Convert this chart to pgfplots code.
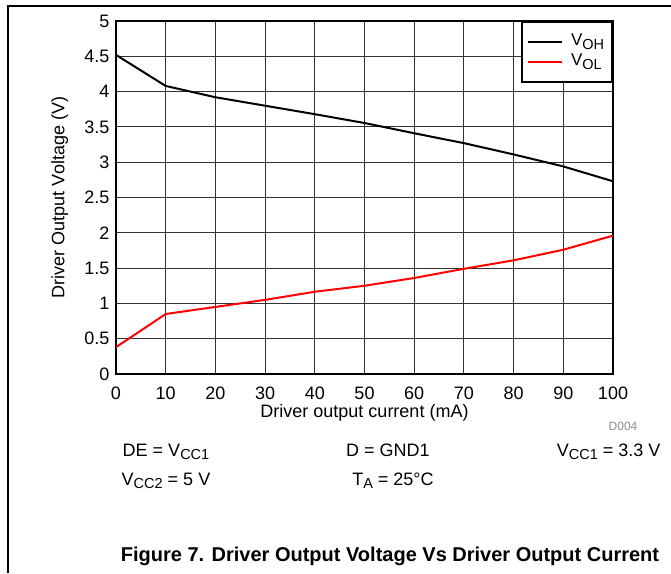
\documentclass[border=0pt]{standalone}
\usepackage{fontspec}
\setmainfont{Liberation Sans}
\usepackage{pgfplots}
\pgfplotsset{compat=1.18}
\newcommand{\sub}[1]{\raisebox{-3.5pt}{\fontsize{14.5}{14.5}\selectfont #1}}
\begin{document}
\begin{tikzpicture}[x=1pt,y=1pt]
\useasboundingbox (0,0) rectangle (671,573);
\draw[line width=1.3pt] (8,0) -- (8,567) -- (671,567);
\begin{axis}[
  at={(116pt,199pt)}, anchor=south west,
  scale only axis, width=497pt, height=353pt,
  xmin=0, xmax=100, ymin=0, ymax=5,
  xtick={0,10,20,30,40,50,60,70,80,90,100},
  ytick={0,0.5,1,1.5,2,2.5,3,3.5,4,4.5,5},
  yticklabels={0,0.5,1,1.5,2,2.5,3,3.5,4,4.5,5},
  /pgf/number format/assume math mode=true,
  major tick length=0pt,
  grid=major,
  major grid style={black!80, line width=0.9pt},
  axis line style={line width=2.4pt, black},
  ticklabel style={font=\fontsize{18}{21}\selectfont},
  xticklabel style={yshift=-9pt},
  yticklabel style={xshift=-3pt},
  label style={font=\fontsize{18}{21}\selectfont},
  xlabel={Driver output current (mA)},
  ylabel={Driver Output Voltage (V)},
  xlabel style={at={(axis description cs:0.5,-0.11)}, anchor=center},
  ylabel style={at={(axis description cs:-0.113,0.5)}, anchor=center},
  legend style={at={(1,1)}, anchor=north east, draw=black, line width=1.6pt,
    font=\fontsize{17}{20}\selectfont, inner xsep=5pt, inner ysep=10pt, row sep=0pt, fill=white,
    nodes={inner sep=3pt, text height=11pt, text depth=3pt}},
  legend cell align=left,
  legend image code/.code={\draw[#1, line width=2pt] (0pt,0pt) -- (34pt,0pt); \path (39pt,0pt);},
]
\addplot[black, line width=2pt] coordinates {
 (0,4.52) (10,4.08) (20,3.92) (30,3.80) (40,3.68) (50,3.555) (60,3.41) (70,3.27) (80,3.11) (90,2.94) (100,2.73)
};
\addlegendentry{V\sub{OH}}
\addplot[red, line width=2pt] coordinates {
 (0,0.38) (10,0.85) (20,0.95) (30,1.05) (40,1.165) (50,1.25) (60,1.36) (70,1.49) (80,1.61) (90,1.76) (100,1.96)
};
\addlegendentry{V\sub{OL}}
\end{axis}
\begin{scope}[font=\fontsize{18}{21}\selectfont]
\node[anchor=base] at (166,117) {DE = V\sub{CC1}};
\node[anchor=base] at (388,117) {D = GND1};
\node[anchor=base east] at (664,117) {V\sub{CC1} = 3.3 V};
\node[anchor=base] at (166,88) {V\sub{CC2} = 5 V};
\node[anchor=base] at (393,88) {T\sub{A} = 25°C};
\end{scope}
\node[anchor=base, text=black!45, font=\fontsize{12}{14}\selectfont] at (623,143) {D004};
\node[anchor=base, font=\fontsize{20}{24}\selectfont\bfseries] at (390,12) {Figure 7. Driver Output Voltage Vs Driver Output Current};
\end{tikzpicture}
\end{document}
